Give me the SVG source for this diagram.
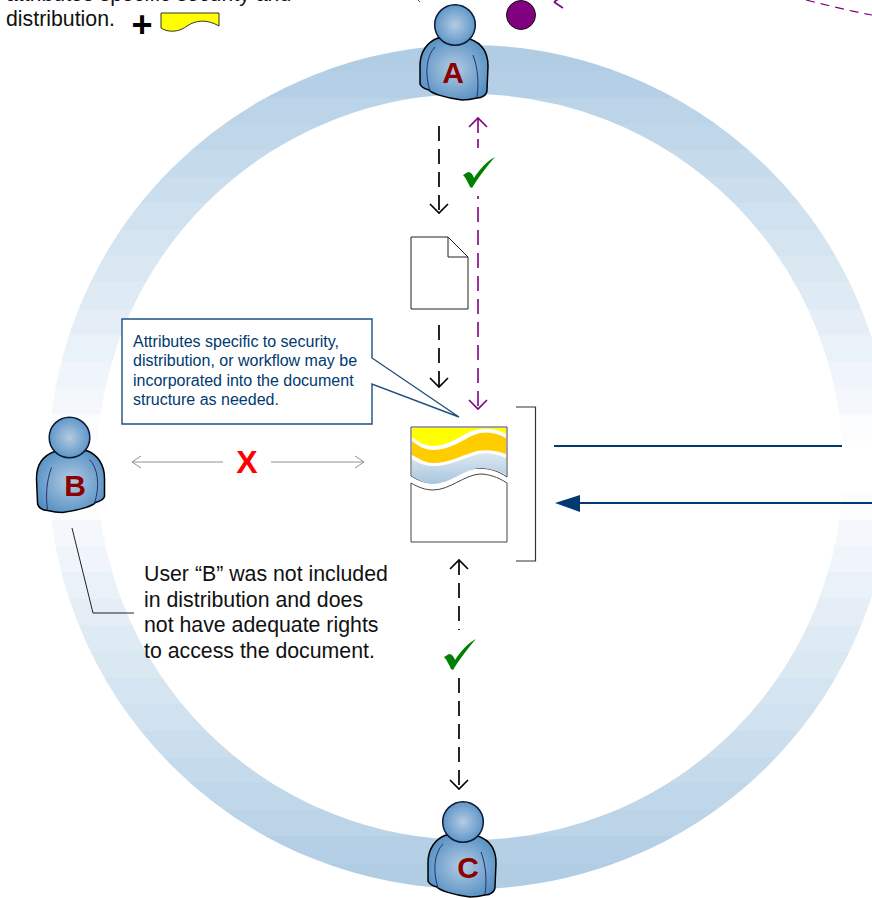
<svg xmlns="http://www.w3.org/2000/svg" width="872" height="898" viewBox="0 0 872 898">
<style>
text{font-family:"Liberation Sans",Arial,sans-serif}
.t{font-size:21.3px;fill:#111}
.c{font-size:16px;fill:#003a70}
.l{font-size:30px;font-weight:bold;fill:#8b0000;text-anchor:middle}
.k{fill:none;stroke:#000;stroke-width:1.7;stroke-dasharray:15 8}
.p{fill:none;stroke:#800080;stroke-width:1.6;stroke-dasharray:15 8}
.hk{fill:none;stroke:#000;stroke-width:1.6}
.hp{fill:none;stroke:#800080;stroke-width:1.6}
.g{fill:none;stroke:#909090;stroke-width:1}
.n{fill:none;stroke:#003a70;stroke-width:2}
.ck{fill:#008000}
</style>
<defs>
<linearGradient id="ring" x1="0" y1="45" x2="0" y2="889" gradientUnits="userSpaceOnUse">
<stop offset="0" stop-color="#b0cde4"/><stop offset="0.03125" stop-color="#b0cde4"/>
<stop offset="0.03125" stop-color="#b5d0e6"/><stop offset="0.0625" stop-color="#b5d0e6"/>
<stop offset="0.0625" stop-color="#bbd4e8"/><stop offset="0.09375" stop-color="#bbd4e8"/>
<stop offset="0.09375" stop-color="#c0d7e9"/><stop offset="0.125" stop-color="#c0d7e9"/>
<stop offset="0.125" stop-color="#c5daeb"/><stop offset="0.15625" stop-color="#c5daeb"/>
<stop offset="0.15625" stop-color="#cadeed"/><stop offset="0.1875" stop-color="#cadeed"/>
<stop offset="0.1875" stop-color="#d0e1ef"/><stop offset="0.21875" stop-color="#d0e1ef"/>
<stop offset="0.21875" stop-color="#d5e4f1"/><stop offset="0.25" stop-color="#d5e4f1"/>
<stop offset="0.25" stop-color="#dae8f2"/><stop offset="0.28125" stop-color="#dae8f2"/>
<stop offset="0.28125" stop-color="#dfebf4"/><stop offset="0.3125" stop-color="#dfebf4"/>
<stop offset="0.3125" stop-color="#e5eef6"/><stop offset="0.34375" stop-color="#e5eef6"/>
<stop offset="0.34375" stop-color="#eaf2f9"/><stop offset="0.375" stop-color="#eaf2f9"/>
<stop offset="0.375" stop-color="#eff5fb"/><stop offset="0.40625" stop-color="#eff5fb"/>
<stop offset="0.40625" stop-color="#f4f8fc"/><stop offset="0.4375" stop-color="#f4f8fc"/>
<stop offset="0.4375" stop-color="#fafcfd"/><stop offset="0.46875" stop-color="#fafcfd"/>
<stop offset="0.46875" stop-color="#ffffff"/><stop offset="0.53125" stop-color="#ffffff"/>
<stop offset="0.53125" stop-color="#fafcfd"/><stop offset="0.5625" stop-color="#fafcfd"/>
<stop offset="0.5625" stop-color="#f4f8fc"/><stop offset="0.59375" stop-color="#f4f8fc"/>
<stop offset="0.59375" stop-color="#eff5fb"/><stop offset="0.625" stop-color="#eff5fb"/>
<stop offset="0.625" stop-color="#eaf2f9"/><stop offset="0.65625" stop-color="#eaf2f9"/>
<stop offset="0.65625" stop-color="#e5eef6"/><stop offset="0.6875" stop-color="#e5eef6"/>
<stop offset="0.6875" stop-color="#dfebf4"/><stop offset="0.71875" stop-color="#dfebf4"/>
<stop offset="0.71875" stop-color="#dae8f2"/><stop offset="0.75" stop-color="#dae8f2"/>
<stop offset="0.75" stop-color="#d5e4f1"/><stop offset="0.78125" stop-color="#d5e4f1"/>
<stop offset="0.78125" stop-color="#d0e1ef"/><stop offset="0.8125" stop-color="#d0e1ef"/>
<stop offset="0.8125" stop-color="#cadeed"/><stop offset="0.84375" stop-color="#cadeed"/>
<stop offset="0.84375" stop-color="#c5daeb"/><stop offset="0.875" stop-color="#c5daeb"/>
<stop offset="0.875" stop-color="#c0d7e9"/><stop offset="0.90625" stop-color="#c0d7e9"/>
<stop offset="0.90625" stop-color="#bbd4e8"/><stop offset="0.9375" stop-color="#bbd4e8"/>
<stop offset="0.9375" stop-color="#b5d0e6"/><stop offset="0.96875" stop-color="#b5d0e6"/>
<stop offset="0.96875" stop-color="#b0cde4"/><stop offset="1" stop-color="#b0cde4"/>
</linearGradient>
<radialGradient id="skin" cx="0.5" cy="0.5" r="0.6"><stop offset="0" stop-color="#b4cbe2"/><stop offset="1" stop-color="#4e8cc2"/></radialGradient>
<linearGradient id="blueband" x1="0" y1="0" x2="0" y2="1"><stop offset="0" stop-color="#dce8f2"/><stop offset="1" stop-color="#a9c6de"/></linearGradient>
<g id="person">
<path d="M438 38C427 42 420 52 420 66L420 84C421 87 425 89 429 90C431 93 445 98 462 100C468 100 473 99 477 98C482 98 487 95 487 90L488 66C488 52 481 43 470 39Z" fill="url(#skin)" stroke="#000" stroke-width="1.5"/>
<path d="M435 47C427 55 424 72 430 91M473 55C478 68 479 84 477 97" fill="none" stroke="#2a2f70" stroke-width="1"/>
<circle cx="455" cy="25" r="20.300" fill="url(#skin)" stroke="#0d1a3a" stroke-width="1.5"/>
</g>
</defs>
<rect width="872" height="898" fill="#fff"/>
<circle id="ring-band" cx="470" cy="467" r="397.500" fill="none" stroke="url(#ring)" stroke-width="49"/>

<g id="note-top">
<text class="t" x="6" y="1">attributes specific security and</text>
<text class="t" x="6" y="26">distribution.</text>
<text x="142" y="37" font-size="36" font-weight="bold" text-anchor="middle" fill="#000">+</text>
<path d="M161 13H219V26C207 19 196 20 187 26C180 32 168 33 161 28Z" fill="#ff0" stroke="#333" stroke-width="1"/>
</g>

<g id="connectors">
<path class="k" d="M439 126V213"/><path class="hk" d="M430 204L439 213L448 204"/>
<path class="hp" d="M478 118V133M478 139V148"/><path class="p" stroke-dashoffset="12" d="M478 196V408"/>
<path class="hp" d="M469 127L478 118L487 127M469 400L478 409L487 400"/>
<path class="k" d="M439 325V387"/><path class="hk" d="M430 378L439 387L448 378"/>
<path class="k" d="M459 560V630"/><path class="k" d="M459 678V789"/>
<path class="hk" d="M450 569L459 560L468 569M450 780L459 789L468 780"/>
<path class="g" d="M223 462H132M141 456L132 462L141 468M271 462H364M355 456L364 462L355 468"/>
<path d="M72 528L93 613H134" fill="none" stroke="#222" stroke-width="1"/>
<path class="n" d="M554 446H842M872 503H570"/>
<path d="M555 503L580 495V512Z" fill="#003a70"/>
<path d="M554 2L563 -4M554 2L563 8" class="hp"/>
<path d="M806 0C830 6 850 11 872 15" fill="none" stroke="#800080" stroke-width="1.200" stroke-dasharray="9 6"/>
<path d="M418 0L420 2" fill="none" stroke="#555" stroke-width="1"/>
</g>

<g id="check-1"><path class="ck" d="M463 175L468 172C471 172 473 175 474 178C479 170 487 161 495 157C487 166 478 178 472 188L470 187C468 183 466 178 463 175Z"/></g>
<g id="check-2"><path class="ck" d="M444 657L449 654C452 654 454 657 455 660C460 652 468 643 476 639C468 648 459 660 453 670L451 669C449 665 447 660 444 657Z"/></g>

<g id="page"><path d="M411 237H448L468 257V309H411Z M448 237V257H468" fill="#fff" stroke="#222" stroke-width="1"/></g>

<g id="callout">
<path d="M122 319H372V358L459 417L372 384V424H122Z" fill="#fff" stroke="#1f5080" stroke-width="1.400"/>
<text class="c" x="133" y="347">Attributes specific to security,</text>
<text class="c" x="133" y="366">distribution, or workflow may be</text>
<text class="c" x="133" y="386">incorporated into the document</text>
<text class="c" x="133" y="405">structure as needed.</text>
</g>

<g id="document">
<path d="M411 427H507V477C490 465 470 466 452 476C436 486 424 484 411 476Z" fill="#fff" stroke="#444" stroke-width="1"/>
<path d="M412 428H506V434C497 429 485 427 472 431C458 437 448 446 433 446C425 446 418 442 412 437Z" fill="#ff0"/>
<path d="M412 441C418 446 425 450 433 450C450 450 460 441 474 435C485 430 497 433 506 438V454C497 451 487 449 477 451C462 455 450 463 433 463C425 463 418 458 412 455Z" fill="#fc0"/>
<path d="M412 459C418 463 425 466 433 466C450 466 464 458 478 454C487 452 497 454 506 458V475C497 470 488 468 480 468C464 469 450 484 433 484C425 484 418 480 412 476Z" fill="url(#blueband)"/>
<path d="M411 483C418 487 425 490 433 490C450 490 464 475 480 474C488 474 498 477 507 483V542H411Z" fill="#fff" stroke="#444" stroke-width="1"/>
</g>
<path id="bracket" d="M516 407H535.500V561H516" fill="none" stroke="#333" stroke-width="1.200"/>

<g id="user-a"><use href="#person"/><text class="l" x="453" y="83">A</text></g>
<g id="user-b"><use href="#person" transform="translate(524.500,412.500) scale(-1,1)"/><text class="l" x="75" y="496">B</text></g>
<g id="user-c"><use href="#person" transform="translate(8,797)"/><text class="l" x="468" y="878">C</text></g>
<g id="purple-dot"><circle cx="521" cy="15" r="14.500" fill="#800080" stroke="#111" stroke-width="1"/></g>

<g id="denied-x"><text x="247" y="473" font-size="32" font-weight="bold" fill="#f00" text-anchor="middle">X</text></g>
<g id="note-b">
<text class="t" x="144" y="581">User “B” was not included</text>
<text class="t" x="144" y="607">in distribution and does</text>
<text class="t" x="144" y="632">not have adequate rights</text>
<text class="t" x="144" y="658">to access the document.</text>
</g>
</svg>
